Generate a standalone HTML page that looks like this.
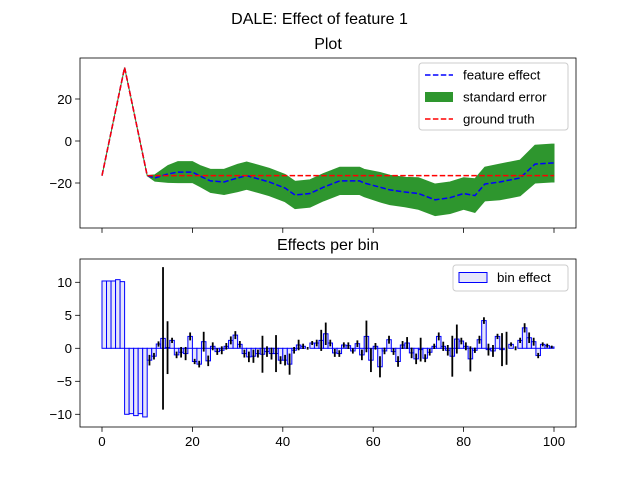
<!DOCTYPE html>
<html><head><meta charset="utf-8"><style>
body{margin:0;background:#fff}
svg text{font-family:"Liberation Sans","DejaVu Sans",sans-serif}
</style></head><body>
<svg id="c" width="639" height="479" xmlns="http://www.w3.org/2000/svg">
<rect width="639" height="479" fill="#fff"/>
<text x="319.5" y="24" text-anchor="middle" font-size="16">DALE: Effect of feature 1</text>
<text x="328" y="49" text-anchor="middle" font-size="16">Plot</text>
<text x="328" y="250" text-anchor="middle" font-size="16">Effects per bin</text>
<g id="topPlot"></g>
<g id="botPlot"></g>
</svg>
<script>
const effX=[0,5,10,11.7,14.6,16.8,20,21.7,24,27,30,32,34.5,37,40.5,42.7,46,49,52.6,57,58,61.5,63.7,67,70,73.7,77,80,82.5,84.7,88,92.5,95.8,99.5,100];
const effY=[-16.5,35,-16.5,-17.6,-15.7,-14.8,-14.8,-16.7,-19,-19.5,-17.6,-16.5,-18,-19.5,-22.4,-25.7,-25,-22,-19,-19,-20,-22,-23.3,-24.3,-25,-28,-27,-25,-26,-20.5,-19.5,-17.6,-11,-10.5,-10.5];
const effStd=[0,0,0,1.5,4,5,5,5,5.5,6,6.5,6.5,6.5,6.5,6.5,6.5,6.5,6.5,6.5,6.5,6.5,7,7,7,7.5,7.5,7.5,7.5,8,8,8.5,8.5,9,9,9];
const gtX=[0,5,10,100];
const gtY=[-16.5,35,-16.5,-16.5];
const binVals=[10.2,10.2,10.2,10.4,10.1,-10,-9.9,-10.2,-9.9,-10.4,
-1.8,-1.2,0.65,1.5,0.1,1.2,-1,-0.6,-0.8,1.8,
-2,-2.4,1,-1.9,0.3,-0.5,-0.3,0.3,1.2,2,
0.6,-0.8,-1.3,-1.2,-0.8,-0.9,-0.5,-0.8,-0.8,-1.8,
-1.8,-2.4,-0.3,0.5,0.3,0,0.8,0.8,1.2,2.2,
0.8,-0.7,-0.8,0.5,0.4,-0.4,0.7,-1,1.8,-1.8,
0.3,-2.8,-0.4,1.3,-0.5,-2,0.5,0.8,-0.7,-1.6,
-0.2,-1.5,-0.6,0.3,1.8,0.3,-0.3,-1.2,1.4,1.1,
0.3,-1.6,-0.3,1.3,4.2,-0.2,-0.4,1.8,-0.2,0,
0.6,0,1.2,3.1,1.6,1,-1.1,0.6,0.4,0.2];
const binErr=[0,0,0,0,0,0,0,0,0,0,
0.8,0.5,0.4,10.8,4,0.4,0.5,0.8,1,0.6,
0.4,0.5,1.5,0.8,0.6,0.5,0.6,0.5,0.6,0.6,
0.5,0.6,0.8,1,0.6,2.8,0.8,0.9,2.8,0.6,
0.8,1.6,0.5,0.8,0.4,0.2,0.3,0.5,1.6,1.7,
0.5,0.6,0.5,0.4,0.5,0.4,0.5,0.8,2.4,1.8,
0.5,1.6,0.5,0.6,0.5,0.8,0.6,0.9,0.8,0.8,
1.8,0.6,0.5,0.4,0.6,0.7,0.8,3.1,2.2,0.5,
0.6,1.9,0.4,0.6,0.5,0.9,0.9,0.4,2.5,2.5,
0.3,0.3,0.4,0.7,0.8,0.6,0.4,0.3,0.3,0.2];
const xTicks=[0,20,40,60,80,100];
const topTicks=[20,0,-20];
const botTicks=[10,5,0,-5,-10];

const NS="http://www.w3.org/2000/svg";
function mk(p,t,a){const e=document.createElementNS(NS,t);for(const k in a)e.setAttribute(k,a[k]);p.appendChild(e);return e;}
const L=80,R=576;
const sx=v=>102+v*4.52;
const syT=v=>141-v*2.1;
const syB=v=>348.3-v*6.6;
const gTop=document.getElementById('topPlot'),gBot=document.getElementById('botPlot');

let up=effX.map((x,i)=>sx(x)+','+syT(effY[i]+effStd[i]));
let dn=effX.map((x,i)=>sx(x)+','+syT(effY[i]-effStd[i])).reverse();
let band=mk(gTop,'polygon',{points:up.concat(dn).join(' '),fill:'#2e962e',stroke:'#2e962e','stroke-width':1});


let fe=mk(gTop,'polyline',{points:effX.map((x,i)=>sx(x)+','+syT(effY[i])).join(' '),fill:'none',stroke:'#0000ff','stroke-width':1.5,'stroke-dasharray':'5.5,2.4'});


let gt=mk(gTop,'polyline',{points:gtX.map((x,i)=>sx(x)+','+syT(gtY[i])).join(' '),fill:'none',stroke:'#ff0000','stroke-width':1.5,'stroke-dasharray':'5.5,2.4'});



binVals.forEach((v,k)=>{
  const x0=sx(k),x1=sx(k+1),y=syB(v),y0=syB(0);
  const r=mk(gBot,'rect',{x:x0,y:Math.min(y,y0),width:x1-x0,height:Math.abs(y-y0),fill:'#e6e6fa',stroke:'#0000ff','stroke-width':1});
  
  
});
binVals.forEach((v,k)=>{
  if(!binErr[k])return;
  const xc=sx(k+0.5);
  const l=mk(gBot,'line',{x1:xc,x2:xc,y1:syB(v+binErr[k]),y2:syB(v-binErr[k]),stroke:'#000','stroke-width':1.8});
  
  
});

function axes(g,y0,y1,ticks,sy,labelsX,name){
  const f=mk(g,'rect',{x:L,y:y0,width:R-L,height:y1-y0,fill:'none',stroke:'#000','stroke-width':0.8});
  
  
  xTicks.forEach(t=>{
    const x=sx(t);
    const tk=mk(g,'line',{x1:x,x2:x,y1:y1,y2:y1+4.9,stroke:'#000','stroke-width':0.8});
    
    
    if(labelsX){
      const tx=mk(g,'text',{x:x,y:y1+19,'text-anchor':'middle','font-size':13.3});
      tx.textContent=t;
      
      
    }
  });
  ticks.forEach(t=>{
    const y=sy(t);
    const tk=mk(g,'line',{x1:L-4.9,x2:L,y1:y,y2:y,stroke:'#000','stroke-width':0.8});
    
    
    const tx=mk(g,'text',{x:L-8,y:y+4.8,'text-anchor':'end','font-size':13.3});
    tx.textContent=t<0?'\u2212'+(-t):t;
    
    
  });
}
axes(gTop,58,228,topTicks,syT,false,'top');
axes(gBot,259,427,botTicks,syB,true,'bottom');

function legendBox(g,x,y,w,h,name){
  const b=mk(g,'rect',{x:x,y:y,width:w,height:h,rx:3,fill:'#fff','fill-opacity':0.8,stroke:'#ccc','stroke-width':1});
  
  
}
legendBox(gTop,419,63,149,67,'top-legend');
const items=[['feature effect','line','#0000ff'],['standard error','patch','#2e962e'],['ground truth','line','#ff0000']];
items.forEach((it,i)=>{
  const y=75+i*22;
  if(it[1]=='line'){
    const l=mk(gTop,'line',{x1:425,x2:453,y1:y,y2:y,stroke:it[2],'stroke-width':1.5,'stroke-dasharray':'5.5,2.4'});
    
    
  } else {
    const r=mk(gTop,'rect',{x:425,y:y-5,width:28,height:10,fill:it[2]});
    
    
  }
  const t=mk(gTop,'text',{x:463,y:y+4.5,'font-size':13.3});
  t.textContent=it[0];
  
  
});
legendBox(gBot,453,265,115,26,'bottom-legend');
const sw=mk(gBot,'rect',{x:459,y:272.5,width:28,height:10,fill:'#e6e6fa',stroke:'#0000ff','stroke-width':1});


const bt=mk(gBot,'text',{x:497,y:282,'font-size':13.3});
bt.textContent='bin effect';


</script>
</body></html>
